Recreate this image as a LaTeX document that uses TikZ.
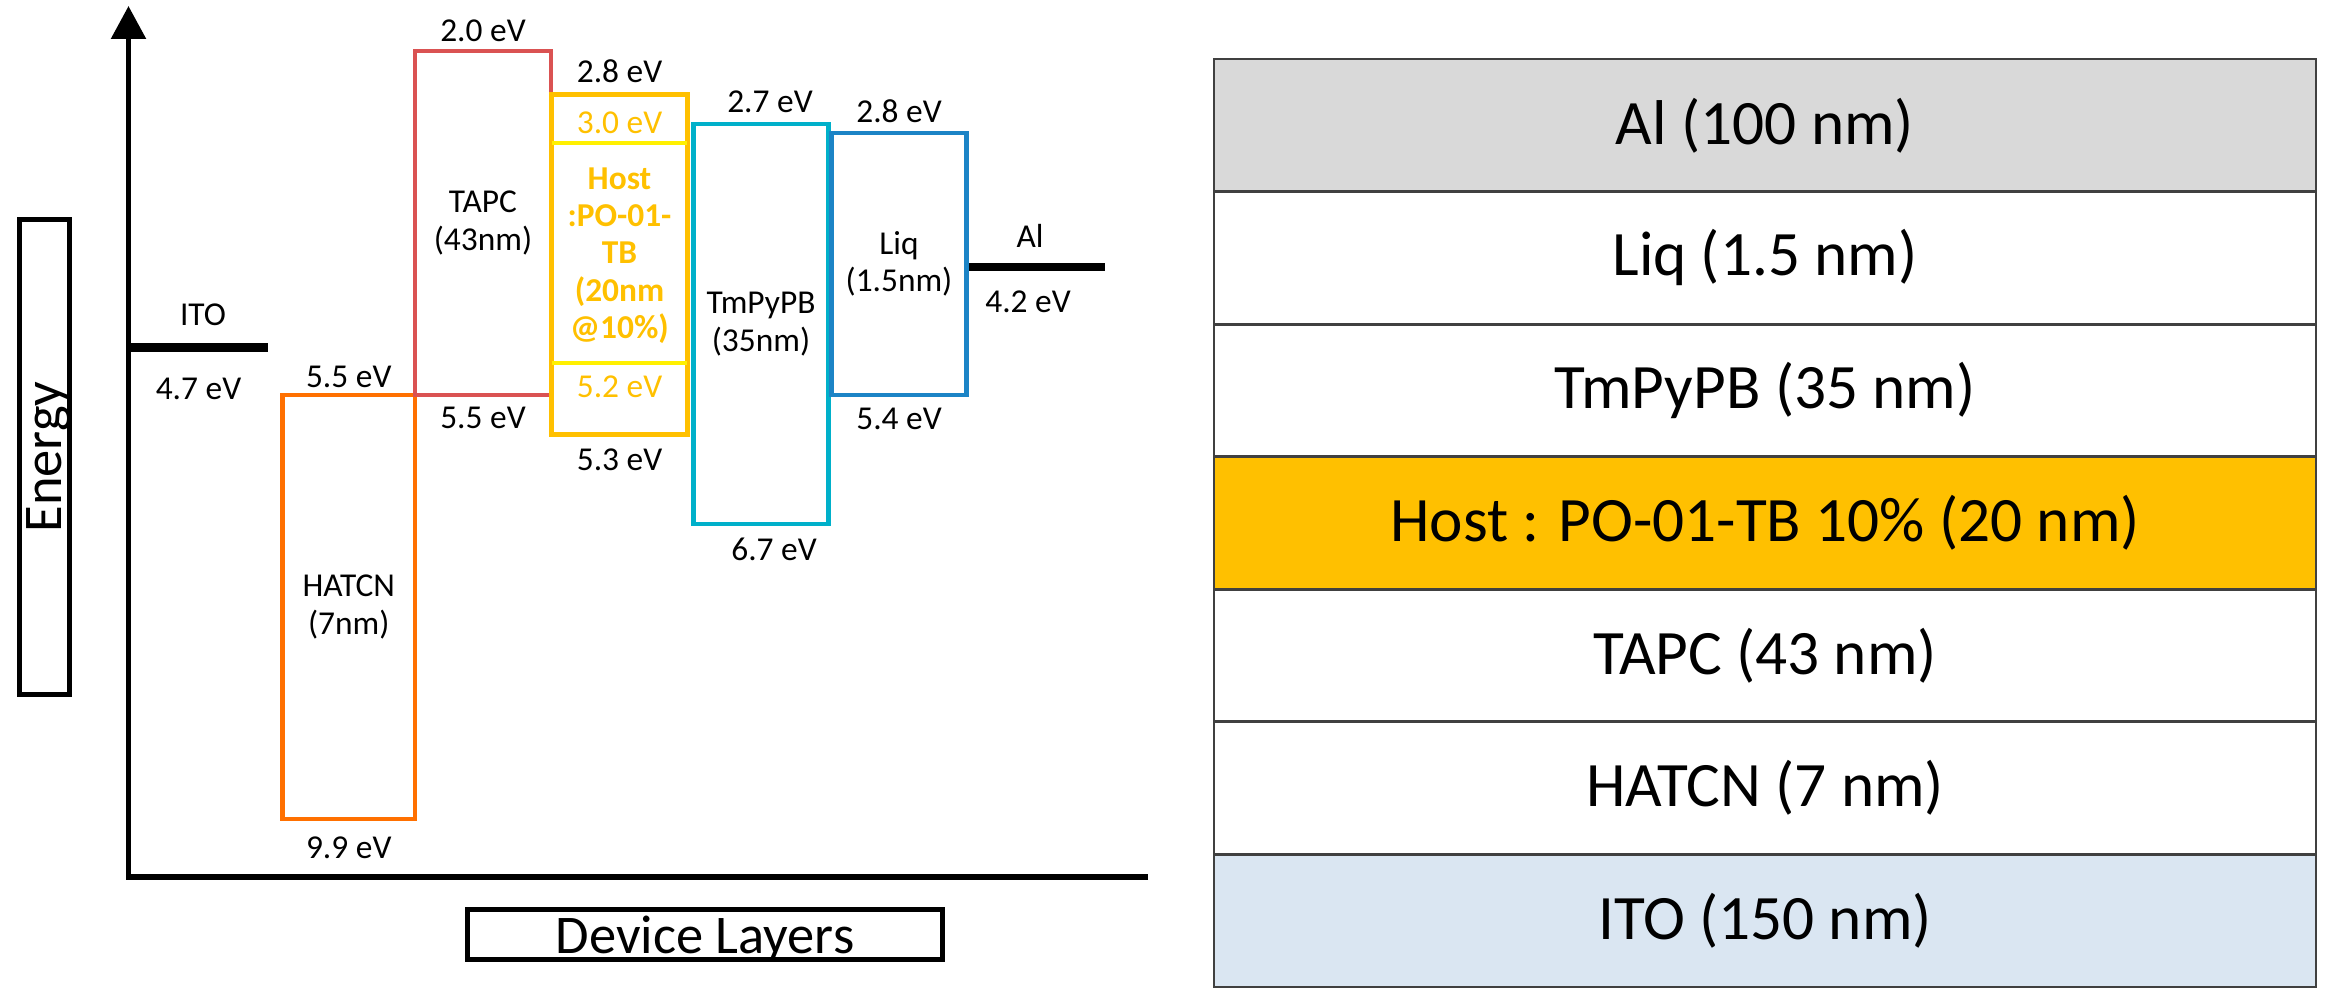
\documentclass[tikz,border=0pt]{standalone}
\usepackage{fontspec}
\setmainfont{Carlito}
\usetikzlibrary{arrows.meta,positioning,calc}
\definecolor{tapccol}{RGB}{218,82,82}
\definecolor{hatcol}{RGB}{255,112,0}
\definecolor{hostcol}{RGB}{255,192,0}
\definecolor{dopcol}{RGB}{255,240,0}
\definecolor{etlcol}{RGB}{0,176,202}
\definecolor{liqcol}{RGB}{28,132,198}
\definecolor{algray}{RGB}{217,217,217}
\definecolor{itoblue}{RGB}{218,230,242}
\definecolor{rowline}{RGB}{64,64,64}

\begin{document}
\begin{tikzpicture}[
  font=\fontsize{9.5}{10.6}\selectfont,
  band/.style={draw,line width=1.4pt,align=center,inner sep=0pt},
  lvl/.style={inner sep=0pt},
  metal/.style={fill=black,inner sep=0pt},
  axlab/.style={draw,line width=1.4pt,inner sep=0pt,text depth=0pt,
    minimum width=4.75cm,minimum height=0.5cm,font=\fontsize{15.5}{17}\selectfont},
  layer/.style={draw=rowline,line width=0.8pt,minimum width=11.02cm,minimum height=1.3257cm,
    anchor=north west,inner sep=0pt,outer sep=0pt,font=\fontsize{18}{20}\selectfont},
  >={Triangle[width=3.4mm,length=3.3mm]}]
\useasboundingbox (0,0) rectangle (23.33,-10.02);

% axes
\coordinate (origin) at (1.285,-8.77);
\coordinate (ytop) at (1.285,-0.06);
\coordinate (xend) at (11.48,-8.77);
\draw[line width=1.6pt,->] (xend) -- (origin) -- (ytop);
\node[axlab] (xlab) at (7.05,-9.345) {Device Layers};
\node[axlab,rotate=90] (ylab) at (0.445,-4.57) {Energy};

% electrodes
\node[metal,minimum width=1.39cm,minimum height=0.09cm] (ito) at (1.985,-3.475) {};
\node[lvl,above=0.155 of ito,xshift=0.045cm] (itoname) {ITO};
\node[lvl,below=0.245 of ito] (itowf) {4.7 eV};
\node[metal,minimum width=1.37cm,minimum height=0.08cm] (al) at (10.365,-2.67) {};
\node[lvl,above=0.145 of al,xshift=-0.065cm] (alname) {Al};
\node[lvl,below=0.185 of al,xshift=-0.085cm] (alwf) {4.2 eV};

% organic layers
\node[band,draw=hatcol,minimum width=1.325cm,minimum height=4.24cm] (hatcn) at (3.4875,-6.07) {HATCN\\(7nm)};
\node[band,draw=tapccol,minimum width=1.36cm,minimum height=3.44cm] (tapc) at (4.83,-2.23) {TAPC\\(43nm)};
\node[band,draw=hostcol,minimum width=1.36cm,minimum height=3.40cm] (host) at (6.195,-2.645) {};
\node[band,draw=etlcol,minimum width=1.35cm,minimum height=4.0cm] (tmpypb) at (7.61,-3.24) {TmPyPB\\(35nm)};
\node[band,draw=liqcol,minimum width=1.35cm,minimum height=2.62cm] (liq) at (8.99,-2.64) {Liq\\(1.5nm)};

% dopant levels inside the host
\coordinate (dopL) at ($(host.north)+(0,-0.51)$);
\coordinate (dopH) at ($(host.south)+(0,0.74)$);
\draw[dopcol,line width=1pt,shorten <=0.03cm,shorten >=0.03cm] (host.west |- dopL) -- (host.east |- dopL);
\draw[dopcol,line width=1pt,shorten <=0.03cm,shorten >=0.03cm] (host.west |- dopH) -- (host.east |- dopH);
\node[lvl,text=hostcol] (dopLv) at ($(host.north)+(0,-0.31)$) {3.0 eV};
\node[lvl,text=hostcol] (dopHv) at ($(host.south)+(0,0.50)$) {5.2 eV};
\node[lvl,text=hostcol,align=center,font=\fontsize{9.5}{10.6}\selectfont\bfseries] (hostname)
  at ($(host.center)+(0,0.09)$) {Host\\:PO-01-\\TB\\(20nm\\@10\%)};

% LUMO / HOMO values
\node[lvl,above=0.04 of hatcn] (hatcnL) {5.5 eV};
\node[lvl,below=0.15 of hatcn] (hatcnH) {9.9 eV};
\node[lvl,above=0.06 of tapc] (tapcL) {2.0 eV};
\node[lvl,below=0.09 of tapc] (tapcH) {5.5 eV};
\node[lvl,above=0.09 of host] (hostL) {2.8 eV};
\node[lvl,below=0.11 of host] (hostH) {5.3 eV};
\node[lvl,above=0.08 of tmpypb,xshift=0.09cm] (tmpypbL) {2.7 eV};
\node[lvl,below=0.11 of tmpypb,xshift=0.13cm] (tmpypbH) {6.7 eV};
\node[lvl,above=0.07 of liq] (liqL) {2.8 eV};
\node[lvl,below=0.10 of liq] (liqH) {5.4 eV};

% device stack
\foreach \nm/\txt/\col [count=\i] in {alrow/Al (100 nm)/algray, liqrow/Liq (1.5 nm)/white,
    etlrow/TmPyPB (35 nm)/white, emlrow/Host : PO-01-TB 10\% (20 nm)/hostcol,
    htlrow/TAPC (43 nm)/white, hilrow/HATCN (7 nm)/white, itorow/ITO (150 nm)/itoblue}
  \node[layer,fill=\col] (\nm) at (12.14,{-0.59-(\i-1)*1.3257}) {\txt};
\end{tikzpicture}
\end{document}
